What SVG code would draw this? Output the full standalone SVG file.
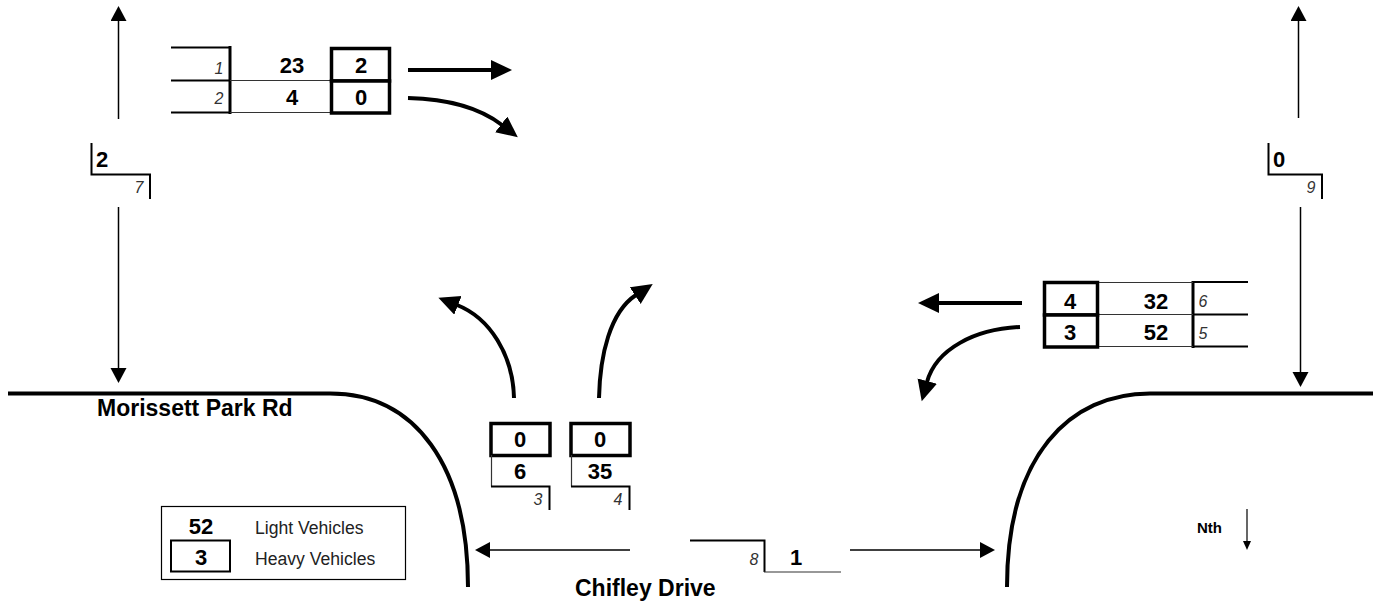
<svg xmlns="http://www.w3.org/2000/svg" width="1377" height="603" viewBox="0 0 1377 603">
<style>
text{font-family:"Liberation Sans",Arial,sans-serif;fill:#000}
.n{font-size:22px;font-weight:bold;text-anchor:middle}
.i{font-size:16px;font-style:italic;fill:#333;text-anchor:middle}
.b{font-size:23px;font-weight:bold}
.l{font-size:17.600px;fill:#222}
.f{fill:none;stroke:#000}
.t1{stroke-width:1.2;stroke:#333}
.t2{stroke-width:2}
.t25{stroke-width:3}
.t3{stroke-width:3.5;fill:#fff}
.a{stroke-width:4}
.c{stroke-width:1.5}
.r{stroke-width:4}
</style>
<defs>
<marker id="big" markerUnits="userSpaceOnUse" markerWidth="24" markerHeight="22" refX="1" refY="10" orient="auto"><path d="M0 0L21 10L0 20Z"/></marker>
<marker id="small" markerUnits="userSpaceOnUse" markerWidth="18" markerHeight="18" refX="1" refY="8" orient="auto"><path d="M0 0L15 8L0 16Z"/></marker>
</defs>
<g id="roads">
<path class="f r" d="M8 393.500H330C415 393.500 468 465 468 587"/>
<path class="f r" d="M1373 393.500H1150C1070 393.500 1007 455 1007 587"/>
<text class="b" x="97" y="416">Morissett Park Rd</text>
<text class="b" x="575" y="596">Chifley Drive</text>
</g>
<g id="connectors">
<path class="f c" d="M118.500 119V20" marker-end="url(#small)"/>
<path class="f c" d="M118.500 207V369" marker-end="url(#small)"/>
<path class="f c" d="M1298.500 118V20" marker-end="url(#small)"/>
<path class="f c" d="M1300.500 207V373" marker-end="url(#small)"/>
<path class="f c" d="M630 550H489" marker-end="url(#small)"/>
<path class="f c" d="M850 550H981" marker-end="url(#small)"/>
<path class="f a" d="M408 70H492" marker-end="url(#big)"/>
<path class="f a" d="M408 98C450 99 480 108 502 125" marker-end="url(#big)"/>
<path class="f a" d="M1022 303H938" marker-end="url(#big)"/>
<path class="f a" d="M1020 327C975 329 936 349 927 382" marker-end="url(#big)"/>
<path class="f a" d="M514 398C513 355 490 318 457 305" marker-end="url(#big)"/>
<path class="f a" d="M599 398C600 355 610 312 636 295" marker-end="url(#big)"/>
</g>
<g id="node-top-left">
<path class="f t2" d="M171 47.500H230M171 80.500H230M171 112.500H230"/>
<path class="f t25" d="M230 46V114"/>
<path class="f t1" d="M230 80.500H331M230 112.500H331"/>
<rect class="f t3" x="331.500" y="48.500" width="58" height="32.500"/>
<rect class="f t3" x="331.500" y="81" width="58" height="32"/>
<text class="i" x="219" y="74">1</text><text class="i" x="219" y="104">2</text>
<text class="n" x="292" y="73">23</text><text class="n" x="292" y="105">4</text>
<text class="n" x="361" y="73">2</text><text class="n" x="361" y="105">0</text>
</g>
<g id="node-left">
<path class="f t2" d="M91.500 143V174.500H150V199"/>
<text class="n" x="102" y="167">2</text><text class="i" x="139" y="193">7</text>
</g>
<g id="node-right">
<path class="f t2" d="M1268.500 143V174.500H1322V199"/>
<text class="n" x="1279" y="167">0</text><text class="i" x="1311" y="193">9</text>
</g>
<g id="node-east">
<path class="f t2" d="M1248 282H1193M1248 314.500H1193M1248 346.500H1193"/>
<path class="f t25" d="M1193 281V348"/>
<path class="f t1" d="M1098 282.500H1193M1098 314.500H1193M1098 346.500H1193"/>
<rect class="f t3" x="1044.500" y="282.500" width="53" height="32.500"/>
<rect class="f t3" x="1044.500" y="315" width="53" height="32"/>
<text class="n" x="1070" y="309">4</text><text class="n" x="1070" y="340">3</text>
<text class="n" x="1156" y="309">32</text><text class="n" x="1156" y="340">52</text>
<text class="i" x="1203" y="307">6</text><text class="i" x="1203" y="339">5</text>
</g>
<g id="node-south-left">
<rect class="f t3" x="491" y="423.500" width="59" height="32"/>
<path class="f t1" d="M491.500 455V486.500"/><path class="f t2" d="M491 486.500H549.500V510"/>
<text class="n" x="520" y="447">0</text><text class="n" x="520" y="479">6</text><text class="i" x="538" y="505">3</text>
</g>
<g id="node-south-right">
<rect class="f t3" x="571" y="423.500" width="59" height="32"/>
<path class="f t1" d="M571.500 455V486.500"/><path class="f t2" d="M571 486.500H629.500V510"/>
<text class="n" x="600" y="447">0</text><text class="n" x="600" y="479">35</text><text class="i" x="618" y="505">4</text>
</g>
<g id="node-south">
<path class="f t2" d="M690 540.500H764.500V572"/><path class="f t1" d="M764 572H841"/>
<text class="n" x="796" y="565">1</text><text class="i" x="754" y="565">8</text>
</g>
<g id="legend">
<rect class="f" x="161.500" y="506.500" width="244" height="73" stroke="#444" stroke-width="1.200"/>
<rect class="f" x="171" y="540.500" width="59" height="31" stroke-width="2"/>
<text class="n" x="201" y="534">52</text><text class="n" x="201" y="565">3</text>
<text class="l" x="255" y="534">Light Vehicles</text><text class="l" x="255" y="565">Heavy Vehicles</text>
</g>
<g id="north">
<text x="1197" y="533" style="font-size:15px;font-weight:bold">Nth</text>
<path class="f" stroke-width="1.200" d="M1247 509V545"/><path d="M1243 541L1247 550L1251 541Z"/>
</g>
</svg>
